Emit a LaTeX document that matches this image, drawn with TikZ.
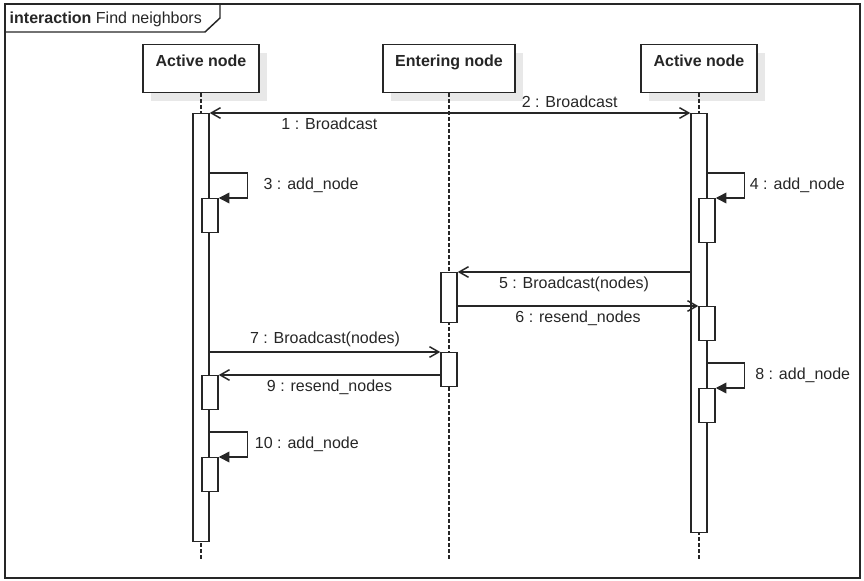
\documentclass[tikz,border=0pt]{standalone}
\usepackage{fontspec}
\setmainfont{Liberation Sans}
\usetikzlibrary{arrows.meta,shadows,calc}

\begin{document}
\begin{tikzpicture}[x=0.75pt, y=-0.75pt, color=black!85, line width=1.1pt,
    font=\fontsize{12}{14}\selectfont,
    head/.style={draw, fill=white, anchor=north, minimum width=87pt, inner ysep=4.5pt,
        text height=12pt, text depth=15pt, font=\fontsize{12}{14}\selectfont\bfseries,
        drop shadow={shadow xshift=6pt, shadow yshift=-6pt, fill=black!9, opacity=1}},
    lifeline/.style={dash pattern=on 2.5pt off 2pt},
    actbar/.style={draw, fill=white, anchor=north, minimum width=12pt, inner sep=0pt},
    msg/.style={-{Straight Barb[length=7pt,width=8pt]}},
    selfmsg/.style={{Triangle[length=8pt,width=8pt]}-}]
    \useasboundingbox (0,0) rectangle (864,581);

    % Frame
    \draw[line width=1.3pt] (5,4) rectangle (860,578);
    \draw (5,32) -- (205,32) -- (220,18) -- (220,4);
    \node[anchor=base west, inner sep=0pt] (frametitle) at (9,24) {\textbf{interaction} Find neighbors};

    % Lifeline heads
    \node[head] (activeL) at (201,44) {Active node};
    \node[head, minimum width=99pt] (entering) at (449,44) {Entering node};
    \node[head] (activeR) at (699,44) {Active node};

    % Lifelines
    \coordinate (endL) at (201,560);
    \coordinate (endM) at (449,560);
    \coordinate (endR) at (699,560);
    \draw[lifeline] (activeL) -- (endL);
    \draw[lifeline] (entering) -- (endM);
    \draw[lifeline] (activeR) -- (endR);

    % Activation bars
    \node[actbar, minimum height=321pt] (barL) at (201,113) {};
    \node[actbar, minimum height=314pt] (barR) at (699,113) {};
    \node[actbar, minimum height=25.5pt] (act3) at (210,198) {};
    \node[actbar, minimum height=33pt] (act4) at (707,198) {};
    \node[actbar, minimum height=37.5pt] (act5) at (449,272) {};
    \node[actbar, minimum height=25.5pt] (act6) at (707,306) {};
    \node[actbar, minimum height=25.5pt] (act7) at (449,352) {};
    \node[actbar, minimum height=25.5pt] (act8) at (707,388) {};
    \node[actbar, minimum height=25.5pt] (act9) at (210,375) {};
    \node[actbar, minimum height=25.5pt] (act10) at (210,457) {};

    % Messages
    \coordinate (src) at (449,113);
    \draw[msg] (src) -- (barL.north east) node[midway, below] {1 : Broadcast};
    \draw[msg] (src) -- (barR.north west) node[midway, above] {2 : Broadcast};
    \draw[selfmsg] (act3.north east) -- ++(29,0) -- ++(0,-25) node[midway, right, xshift=8pt] {3 : add\_node} -- ++(-38,0);
    \draw[selfmsg] (act4.north east) -- ++(29,0) -- ++(0,-25) node[midway, right] {4 : add\_node} -- ++(-38,0);
    \draw[msg] (barR.west |- act5.north) -- (act5.north east) node[midway, below] {5 : Broadcast(nodes)};
    \draw[msg] (act5.east |- act6.north) -- (act6.north west) node[midway, below] {6 : resend\_nodes};
    \draw[msg] (barL.east |- act7.north) -- (act7.north west) node[midway, above] {7 : Broadcast(nodes)};
    \draw[selfmsg] (act8.north east) -- ++(29,0) -- ++(0,-25) node[midway, right, xshift=4pt] {8 : add\_node} -- ++(-38,0);
    \draw[msg] (act7.west |- act9.north) -- (act9.north east) node[midway, below] {9 : resend\_nodes};
    \draw[selfmsg] (act10.north east) -- ++(29,0) -- ++(0,-25) node[midway, right, xshift=1.5pt] {10 : add\_node} -- ++(-38,0);

\end{tikzpicture}
\end{document}
